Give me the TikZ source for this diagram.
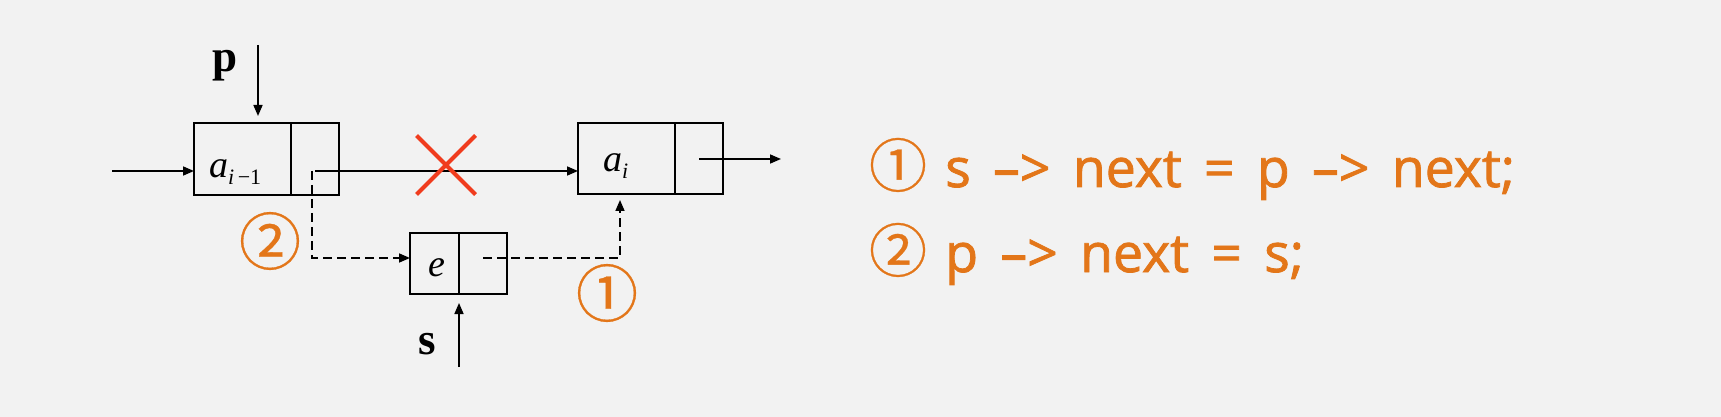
\documentclass[tikz,border=0pt]{standalone}
\usepackage{fontspec}
\setmainfont{Liberation Serif}
\newfontfamily\codefont[WordSpace=1.6,FakeBold=1.5]{Open Sans}
\newfontfamily\cjkfont[FakeBold=0.5]{Noto Sans CJK SC}
\usetikzlibrary{arrows.meta, shapes.misc}
\definecolor{bg}{HTML}{F2F2F2}
\definecolor{orng}{HTML}{E37619}
\definecolor{xred}{HTML}{F03C1E}
\tikzset{
  cell/.style={draw, line width=1pt, rectangle, inner sep=0pt, outer sep=0pt},
  arr/.style={-{Triangle[length=5.5pt,width=4.5pt]}, line width=0.8pt},
  dsh/.style={arr, dash pattern=on 4.5pt off 2.5pt},
  lab/.style={inner sep=0pt, outer sep=0pt},
  circnum/.style={inner sep=0pt, text=orng, font=\cjkfont\fontsize{31}{31}\selectfont},
}
\begin{document}
\begin{tikzpicture}[x=0.5pt,y=-0.5pt]
\fill[bg] (0,0) rectangle (1721,417);
\useasboundingbox (0,0) rectangle (1721,417);
% cells
\node[cell, minimum width=48.5pt, minimum height=36pt] (a1d) at (242.5,159) {};
\node[cell, minimum width=24pt, minimum height=36pt] (a1p) at (315,159) {};
\node[cell, minimum width=48.5pt, minimum height=35.5pt] (a2d) at (626.5,158.5) {};
\node[cell, minimum width=24pt, minimum height=35.5pt] (a2p) at (699,158.5) {};
\node[cell, minimum width=24.5pt, minimum height=30.5pt] (ed) at (434.5,263.5) {};
\node[cell, minimum width=24pt, minimum height=30.5pt] (ep) at (483,263.5) {};
% cell texts
\node[lab, anchor=base west] (ta1) at (209,177) {\fontsize{19}{19}\selectfont\itshape a\raisebox{-3.5pt}{\fontsize{11}{11}\selectfont\itshape i\,\upshape −1}};
\node[lab, anchor=base west] (ta2) at (603,172) {\fontsize{19}{19}\selectfont\itshape a\raisebox{-3.5pt}{\fontsize{11}{11}\selectfont\itshape i}};
\node[lab, anchor=base west] (te) at (428,277) {\fontsize{19}{19}\selectfont\itshape e};
% pointer labels
\node[lab, font=\bfseries\fontsize{22.5}{22.5}\selectfont] (plab) at (225,66) {p};
\node[lab, font=\bfseries\fontsize{22.5}{22.5}\selectfont] (slab) at (427,344) {s};
% connectors
\coordinate (in0) at (112,171);
\draw[arr] (in0) -- (in0 -| a1d.west);
\coordinate (ptop) at (258,45);
\draw[arr, shorten >=3.5pt] (ptop) -- (ptop |- a1d.north);
\coordinate (n1) at (315,171);
\draw[arr] (n1) -- (n1 -| a2d.west);
\node[cross out, draw=xred, line width=2pt, minimum size=27.5pt, inner sep=0pt] (cross) at (446,165) {};
\coordinate (n2) at (312,171);
\coordinate (d2) at (312,258);
\draw[dsh] (n2) -- (d2) -- (d2 -| ed.west);
\coordinate (d1s) at (483,258);
\coordinate (d1c) at (620,258);
\draw[dsh, shorten >=3pt] (d1s) -- (d1c) -- (d1c |- a2d.south);
\coordinate (sbot) at (459,367);
\draw[arr, shorten >=4.5pt] (sbot) -- (sbot |- ed.south);
\coordinate (o1) at (699,159);
\coordinate (o2) at (781,159);
\draw[arr] (o1) -- (o2);
% step numbers
\node[circnum] (c2) at (270,241) {②};
\node[circnum] (c1) at (607,293) {①};
% code
\node[lab, anchor=base west, text=orng, font=\codefont\fontsize{26.8}{26.8}\selectfont] (code1) at (869,187) {{\cjkfont\fontsize{29}{29}\selectfont ①}\hspace{-2pt} s –> next = p –> next;};
\node[lab, anchor=base west, text=orng, font=\codefont\fontsize{26.8}{26.8}\selectfont] (code2) at (869,272) {{\cjkfont\fontsize{29}{29}\selectfont ②}\hspace{-2pt} p –> next = s;};
\end{tikzpicture}
\end{document}
